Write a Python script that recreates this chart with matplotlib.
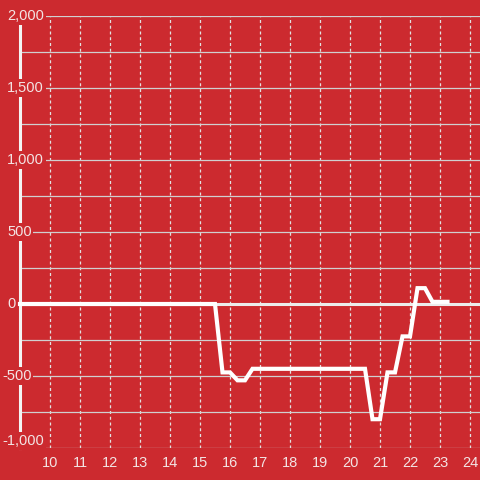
import matplotlib
matplotlib.use("Agg")
import matplotlib.pyplot as plt
from matplotlib.transforms import blended_transform_factory

# ---- data ----
hours = [9.0, 15.5, 15.75, 16.0, 16.25, 16.5, 16.75, 20.5, 20.75, 21.0,
         21.25, 21.5, 21.75, 22.0, 22.25, 22.5, 22.75, 23.25]
values = [0, 0, -475, -475, -530, -530, -450, -450, -800, -800,
          -475, -475, -225, -225, 110, 110, 15, 15]
x_ticks = list(range(10, 25))
y_major = [-1000, -500, 0, 500, 1000, 1500, 2000]
y_minor = [-750, -250, 250, 750, 1250, 1750]
y_labels = ["-1,000", "-500", "0", "500", "1,000", "1,500", "2,000"]

BG = "#cc2a2f"
TXT = "#f3e4e4"
GRID = "#d0d0d0"

plt.rcParams['font.family'] = ['Liberation Sans', 'DejaVu Sans']

fig = plt.figure(figsize=(4.8, 4.8), dpi=100, facecolor=BG)
W = H = 480.0
ax = fig.add_axes([20 / W, 32 / H, 460 / W, 432 / H])
ax.set_facecolor(BG)
ax.set_xlim(9, 9 + 460 / 30)
ax.set_ylim(-1000, 2000)

for s in ['top', 'right', 'bottom']:
    ax.spines[s].set_visible(False)
ax.spines['left'].set_color('#f4f4f4')
ax.spines['left'].set_linewidth(2.2)
ax.spines['left'].set_zorder(3)

# grid lines
for v in x_ticks:
    ax.axvline(v, color='#e2e2e2', lw=0.9, ls=(0, (2.4, 2.2)), zorder=1)
for v in y_major + y_minor:
    if v == 0:
        continue
    ax.axhline(v, color=GRID, lw=0.9, zorder=1)
ax.axhline(0, color='#ececec', lw=2.2, zorder=1.5)

# data line
ax.plot(hours, values, color='white', lw=3.0, solid_joinstyle='miter',
        zorder=4, clip_on=False)

# x ticks
ax.set_xticks(x_ticks)
ax.set_xticklabels([str(t) for t in x_ticks])
ax.tick_params(axis='x', length=0, pad=6, labelsize=10.5, labelcolor=TXT)
ax.set_yticks([])

# y labels with background boxes
tr = blended_transform_factory(fig.transFigure, ax.transData)
for v, lab in zip(y_major, y_labels):
    xpos = (2 if lab.startswith('-') else 7) / W
    va = 'center'
    if v == -1000:
        va = 'bottom'
    t = ax.text(xpos, v, lab, transform=tr, ha='left', va=va,
                fontsize=10.5, color=TXT, zorder=6, clip_on=False)
    t.set_bbox(dict(boxstyle='square,pad=0.12', facecolor=BG,
                    edgecolor='none'))

fig.savefig('out.png', dpi=100, facecolor=BG)
